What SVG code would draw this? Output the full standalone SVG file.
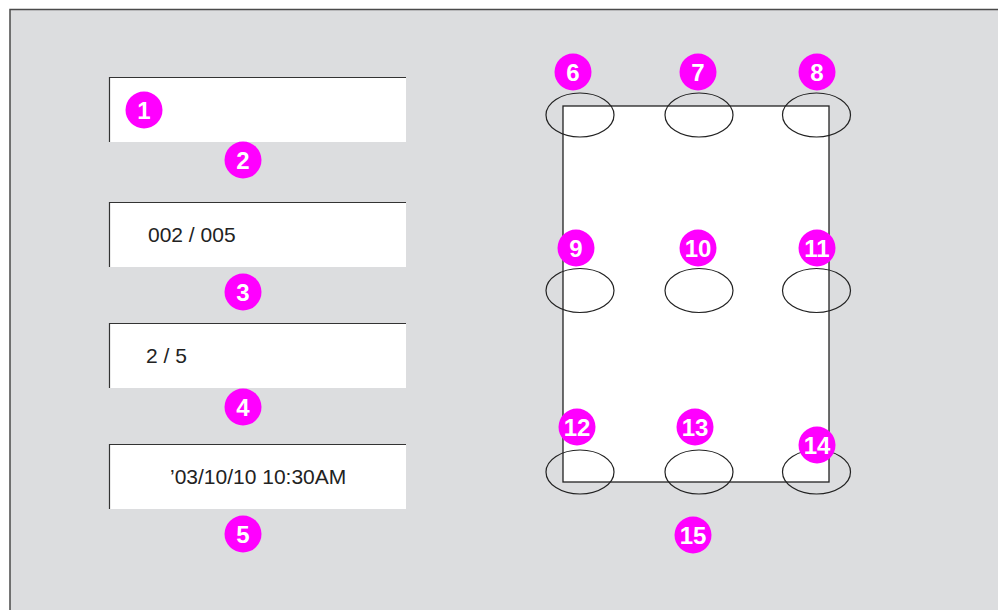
<svg xmlns="http://www.w3.org/2000/svg" width="998" height="610" viewBox="0 0 998 610">
<style>
.bg{fill:#dcdddf}
.frame{fill:none;stroke:#4a4a4a;stroke-width:1.5}
.box{fill:#ffffff}
.edge{fill:none;stroke:#333;stroke-width:1.2}
.ell{fill:none;stroke:#222;stroke-width:1.2}
.badge circle{fill:#ff00ff}
.badge text{fill:#fff;font-family:"Liberation Sans",Arial,sans-serif;font-weight:bold;font-size:24px;text-anchor:middle}
.lbl{fill:#222;font-family:"Liberation Sans",Arial,sans-serif;font-size:21px}
</style>
<rect class="bg" x="10" y="9" width="988" height="601"/>
<path class="frame" d="M10,610 V9.5 H998"/>
<g id="field1">
<rect class="box" x="109" y="77" width="297" height="65"/>
<path class="edge" d="M109.5,142 V77.5 H406"/>
</g>
<g id="field2">
<rect class="box" x="109" y="202" width="297" height="65"/>
<path class="edge" d="M109.5,267 V202.5 H406"/>
<text class="lbl" x="148" y="242">002 / 005</text>
</g>
<g id="field3">
<rect class="box" x="109" y="323" width="297" height="65"/>
<path class="edge" d="M109.5,388 V323.5 H406"/>
<text class="lbl" x="146" y="363">2 / 5</text>
</g>
<g id="field4">
<rect class="box" x="109" y="444" width="297" height="65"/>
<path class="edge" d="M109.5,509 V444.5 H406"/>
<text class="lbl" x="170" y="484">’03/10/10 10:30AM</text>
</g>
<g id="page">
<rect x="563" y="106" width="266" height="376" fill="#fff" stroke="#222" stroke-width="1.3"/>
</g>
<g id="positions">
<ellipse class="ell" cx="580" cy="115" rx="34" ry="22"/>
<ellipse class="ell" cx="699" cy="115" rx="34" ry="22"/>
<ellipse class="ell" cx="816.5" cy="115" rx="34" ry="22"/>
<ellipse class="ell" cx="580" cy="290.5" rx="34" ry="22"/>
<ellipse class="ell" cx="699" cy="290.5" rx="34" ry="22"/>
<ellipse class="ell" cx="816.5" cy="290.5" rx="34" ry="22"/>
<ellipse class="ell" cx="580" cy="472" rx="34" ry="22"/>
<ellipse class="ell" cx="699" cy="472" rx="34" ry="22"/>
<ellipse class="ell" cx="816.5" cy="472" rx="34" ry="22"/>
</g>
<g id="badge1" class="badge"><circle cx="144" cy="110" r="18.5"/><text x="144" y="118.5">1</text></g>
<g id="badge2" class="badge"><circle cx="243" cy="160" r="18.5"/><text x="243" y="168.5">2</text></g>
<g id="badge3" class="badge"><circle cx="243" cy="292" r="18.5"/><text x="243" y="300.5">3</text></g>
<g id="badge4" class="badge"><circle cx="243" cy="407" r="18.5"/><text x="243" y="415.5">4</text></g>
<g id="badge5" class="badge"><circle cx="243" cy="534" r="18.5"/><text x="243" y="542.5">5</text></g>
<g id="badge6" class="badge"><circle cx="573" cy="72" r="18.5"/><text x="573" y="80.5">6</text></g>
<g id="badge7" class="badge"><circle cx="698" cy="72" r="18.5"/><text x="698" y="80.5">7</text></g>
<g id="badge8" class="badge"><circle cx="817" cy="72" r="18.5"/><text x="817" y="80.5">8</text></g>
<g id="badge9" class="badge"><circle cx="576" cy="248" r="18.5"/><text x="576" y="256.5">9</text></g>
<g id="badge10" class="badge"><circle cx="698" cy="248" r="18.5"/><text x="698" y="256.5">10</text></g>
<g id="badge11" class="badge"><circle cx="817" cy="248" r="18.5"/><text x="817" y="256.5">11</text></g>
<g id="badge12" class="badge"><circle cx="577" cy="427" r="18.5"/><text x="577" y="435.5">12</text></g>
<g id="badge13" class="badge"><circle cx="695" cy="427" r="18.5"/><text x="695" y="435.5">13</text></g>
<g id="badge14" class="badge"><circle cx="817" cy="445" r="18.5"/><text x="817" y="453.5">14</text></g>
<g id="badge15" class="badge"><circle cx="693" cy="535" r="18.5"/><text x="693" y="543.5">15</text></g>
<g id="connectors"></g>
</svg>
